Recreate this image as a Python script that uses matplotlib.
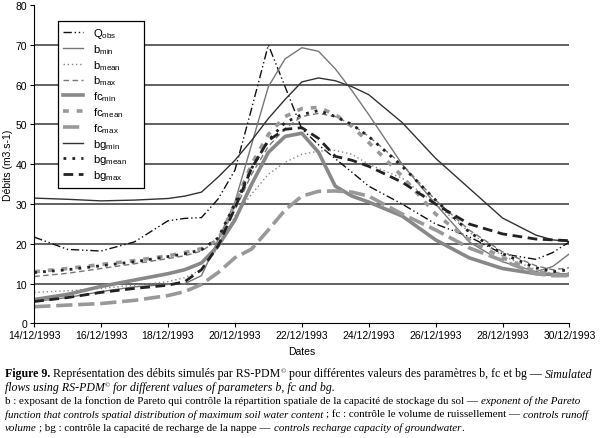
import matplotlib
matplotlib.use('Agg')
import matplotlib.pyplot as plt
import matplotlib.dates as mdates
from matplotlib.patches import Rectangle
from matplotlib.transforms import IdentityTransform
import numpy as np
import pandas as pd

# days after 14/12/1993
days = [0, 1, 2, 3, 4, 4.5, 5, 5.5, 6, 6.5, 7, 7.5, 8, 8.5, 9, 9.5, 10, 11, 12, 13, 14, 15, 15.5, 16]

q_obs = [21.7, 18.6, 18.2, 20.5, 25.8, 26.4, 26.6, 31.3, 38.5, 54.0, 70.0, 59.5, 48.9, 44.9, 41.4, 38.0, 34.5, 30.0, 25.0, 21.8, 17.5, 16.1, 17.8, 20.5]
b_min = [5.5, 6.5, 8.0, 9.2, 9.8, 10.0, 12.0, 21.0, 30.5, 45.0, 59.5, 66.5, 69.3, 68.4, 64.0, 58.5, 52.5, 40.0, 30.0, 20.5, 15.5, 13.0, 14.3, 17.5]
b_mean = [7.8, 8.2, 8.8, 9.6, 10.5, 11.5, 13.5, 19.0, 27.0, 32.5, 37.5, 40.5, 42.5, 43.3, 43.5, 42.5, 40.0, 36.5, 30.0, 23.0, 17.0, 13.5, 12.5, 12.2]
b_max = [11.8, 12.6, 13.8, 15.0, 16.3, 17.0, 18.2, 21.0, 28.5, 37.5, 44.5, 49.0, 52.0, 52.8, 52.0, 50.0, 47.0, 40.0, 31.0, 23.5, 18.0, 14.5, 13.5, 14.0]
fc_min = [6.0, 7.3, 9.3, 10.9, 12.5, 13.5, 15.2, 19.5, 26.0, 35.0, 43.0, 47.0, 47.8, 43.0, 34.5, 32.0, 30.5, 27.0, 21.0, 16.5, 13.8, 12.5, 12.3, 12.2]
fc_mean = [13.0, 13.8, 14.8, 15.8, 17.0, 17.8, 18.8, 21.0, 30.0, 40.0, 47.5, 52.0, 54.0, 54.3, 52.5, 49.5, 45.5, 37.0, 27.5, 21.0, 16.5, 13.0, 12.5, 12.5]
fc_max = [4.2, 4.6, 5.0, 5.8, 7.0, 8.0, 9.8, 12.8, 16.5, 18.7, 23.5, 28.5, 32.0, 33.2, 33.3, 33.0, 32.0, 27.5, 23.5, 19.0, 15.8, 12.5, 12.0, 12.0]
bg_min = [31.5, 31.2, 30.8, 31.0, 31.4, 32.0, 33.0, 36.8, 41.0, 46.0, 51.5, 56.3, 60.7, 61.7, 61.0, 59.5, 57.5, 50.5, 41.5, 34.0, 26.5, 22.2, 21.0, 20.6]
bg_mean = [12.8, 13.5, 14.5, 15.5, 16.8, 17.5, 18.5, 21.5, 30.0, 39.0, 46.0, 50.5, 52.5, 53.5, 52.0, 50.0, 47.0, 39.5, 31.0, 23.0, 17.5, 14.0, 13.0, 13.5]
bg_max = [5.5, 6.5, 7.8, 8.8, 9.6, 10.5, 13.5, 19.5, 29.0, 39.0, 46.0, 48.8, 49.2, 46.5, 42.0, 41.0, 39.5, 35.5, 30.0, 25.0, 22.5, 21.2, 21.0, 20.8]

labels = [r'Q$_{\rm obs}$', r'b$_{\rm min}$', r'b$_{\rm mean}$', r'b$_{\rm max}$',
          r'fc$_{\rm min}$', r'fc$_{\rm mean}$', r'fc$_{\rm max}$',
          r'bg$_{\rm min}$', r'bg$_{\rm mean}$', r'bg$_{\rm max}$']

start = pd.Timestamp('1993-12-14')
dates = [start + pd.Timedelta(days=d) for d in days]

plt.rcParams['font.family'] = ['Liberation Sans', 'DejaVu Sans']
plt.rcParams['mathtext.fontset'] = 'custom'
plt.rcParams['mathtext.rm'] = 'Liberation Sans'

fig = plt.figure(figsize=(6, 4.39), dpi=100)
ax = fig.add_axes([0.057, 0.261, 0.892, 0.725])

styles = [
    dict(color='#111111', lw=1.0, ls=(0, (6, 2, 1, 2, 1, 2))),
    dict(color='#777777', lw=1.0, ls='-'),
    dict(color='#888888', lw=1.0, ls=(0, (1, 2))),
    dict(color='#777777', lw=1.0, ls=(0, (4, 2.5))),
    dict(color='#888888', lw=2.6, ls='-'),
    dict(color='#999999', lw=2.6, ls=(0, (1.6, 2.2))),
    dict(color='#999999', lw=2.6, ls=(0, (4.5, 1.6))),
    dict(color='#333333', lw=1.0, ls='-'),
    dict(color='#222222', lw=2.0, ls=(0, (1, 2.2))),
    dict(color='#222222', lw=2.0, ls=(0, (3.5, 2))),
]
series = [q_obs, b_min, b_mean, b_max, fc_min, fc_mean, fc_max, bg_min, bg_mean, bg_max]

for vals, lab, st in zip(series, labels, styles):
    ax.plot(dates, vals, label=lab, **st)

ax.set_xlim(start, start + pd.Timedelta(days=16))
ax.set_ylim(0, 80)
ax.set_yticks(range(0, 81, 10))
ax.xaxis.set_major_locator(mdates.DayLocator(bymonthday=[14, 16, 18, 20, 22, 24, 26, 28, 30]))
ax.xaxis.set_major_formatter(mdates.DateFormatter('%d/%m/%Y'))

ax.yaxis.grid(True, color='#555555', lw=1.3)
gl = ax.get_ygridlines()
gl[0].set_visible(False)
gl[-1].set_visible(False)
ax.set_axisbelow(True)

for s in ['top', 'right']:
    ax.spines[s].set_visible(False)
for s in ['left', 'bottom']:
    ax.spines[s].set_linewidth(0.8)
ax.tick_params(labelsize=7.5, length=3, width=0.8, pad=2)

ax.set_ylabel('Débits (m3.s-1)', fontsize=7.5, labelpad=2)
ax.set_xlabel('Dates', fontsize=7.5, labelpad=4)

leg = ax.legend(loc='upper left', bbox_to_anchor=(0.044, 0.95), fontsize=8.2,
                handlelength=1.75, handletextpad=0.9, labelspacing=0.17, borderpad=0.45,
                borderaxespad=0, frameon=False)
leg.set_zorder(6)

fig.canvas.draw()
renderer = fig.canvas.get_renderer()
W = fig.get_figwidth() * fig.dpi
H = fig.get_figheight() * fig.dpi

# legend box, a bit wider on the right like the original
lb = leg.get_window_extent(renderer)
box = Rectangle((lb.x0, lb.y0), lb.width + 12, lb.height, transform=IdentityTransform(),
                facecolor='white', edgecolor='black', lw=0.9, zorder=5, clip_on=False)
ax.add_artist(box)


def width_of(txt, kw):
    t = fig.text(0, 0, txt, **kw)
    w = t.get_window_extent(renderer).width
    t.remove()
    return w


def draw_runs(x_px, y_px, runs, size):
    x = x_px
    base = dict(family='Liberation Serif', fontsize=size, va='baseline', ha='left')
    sp = width_of('a a', base) - width_of('aa', base)
    for txt, st in runs:
        kw = dict(base)
        dy = 0
        if st == 'b':
            kw['weight'] = 'bold'
        elif st == 'i':
            kw['style'] = 'italic'
        elif st == 'sup':
            kw['fontsize'] = size * 0.6
            dy = size * 0.45
        if txt == ' ':
            x += sp
            continue
        t = fig.text(x / W, 1 - (y_px - dy) / H, txt, **kw)
        x += t.get_window_extent(renderer).width


s1 = 8.6
s2 = 7.9
draw_runs(5, 377.5, [('Figure 9.', 'b'), (' ', 'n'),
                     ('Représentation des débits simulés par RS-PDM', 'n'), ('©', 'sup'), (' ', 'n'),
                     ('pour différentes valeurs des paramètres b, fc et bg —', 'n'), (' ', 'n'),
                     ('Simulated', 'i')], s1)
draw_runs(5, 391, [('flows using RS-PDM', 'i'), ('©', 'sup'), (' ', 'n'),
                   ('for different values of parameters b, fc and bg.', 'i')], s1)
draw_runs(5, 404, [('b : exposant de la fonction de Pareto qui contrôle la répartition spatiale de la capacité de stockage du sol —', 'n'),
                   (' ', 'n'), ('exponent of the Pareto', 'i')], s2)
draw_runs(5, 417.5, [('function that controls spatial distribution of maximum soil water content', 'i'), (' ', 'n'),
                     ('; fc : contrôle le volume de ruissellement —', 'n'), (' ', 'n'), ('controls runoff', 'i')], s2)
draw_runs(5, 431, [('volume', 'i'), (' ', 'n'), ('; bg : contrôle la capacité de recharge de la nappe —', 'n'),
                   (' ', 'n'), ('controls recharge capacity of groundwater', 'i'), ('.', 'n')], s2)

fig.savefig('out.png', dpi=100)
